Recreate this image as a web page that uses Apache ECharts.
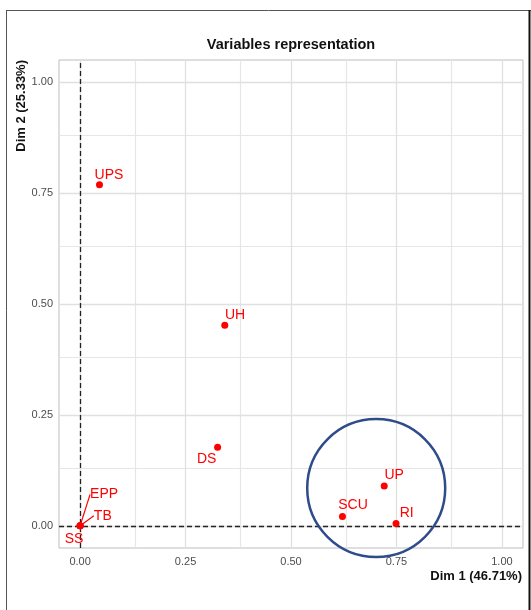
<!DOCTYPE html>
<html><head><meta charset="utf-8">
<script src="https://cdn.jsdelivr.net/npm/echarts@6/dist/echarts.min.js"></script>
<style>html,body{margin:0;padding:0;background:#fff}#c{width:531px;height:610px}</style>
</head><body><div id="c"></div>
<script>
// ---- data ----
const varNames = ['UPS', 'UH', 'DS', 'UP', 'SCU', 'RI', 'EPP', 'TB', 'SS'];
const dim1 = [0.046, 0.343, 0.326, 0.721, 0.622, 0.749, 0.000, 0.000, 0.000];
const dim2 = [0.769, 0.452, 0.177, 0.090, 0.021, 0.005, 0.000, 0.000, 0.000];
const tickValues = [0, 0.25, 0.5, 0.75, 1];
const minorGridValues = [0.125, 0.375, 0.625, 0.875];
const axisRange = [-0.05, 1.05];
const titleText = 'Variables representation';
const xName = 'Dim 1 (46.71%)';
const yName = 'Dim 2 (25.33%)';
const circleCenter = [0.702, 0.085];

// ---- layout / style ----
const labelOffsets = {
  UPS: [9.5, -10], UH: [10.3, -10], DS: [-11, 12.3], UP: [10, -11],
  SCU: [10.6, -11], RI: [10.7, -10.7], EPP: [24, -31.5], TB: [22.7, -10], SS: [-6, 13]
};
const FONT = '"Liberation Sans", Arial, sans-serif';
const RED = '#FF0000';

const chart = echarts.init(document.getElementById('c'));

const gridLines = [];
minorGridValues.forEach(v => {
  gridLines.push({ xAxis: v, lineStyle: { color: '#E6E6E6', width: 1.2, type: 'solid' } });
  gridLines.push({ yAxis: v, lineStyle: { color: '#E6E6E6', width: 1.2, type: 'solid' } });
});
tickValues.forEach(v => {
  gridLines.push({ xAxis: v, lineStyle: { color: '#E0E0E0', width: 1.3, type: 'solid' } });
  gridLines.push({ yAxis: v, lineStyle: { color: '#E0E0E0', width: 1.3, type: 'solid' } });
});

function axisCfg(margin) {
  return {
    type: 'value', min: axisRange[0], max: axisRange[1],
    axisLine: { show: false },
    splitLine: { show: false },
    axisTick: { show: true, length: 4, customValues: tickValues, lineStyle: { color: '#B3B3B3', width: 1 } },
    axisLabel: { customValues: tickValues, formatter: v => v.toFixed(2), color: '#4D4D4D',
                 fontSize: 11, fontFamily: FONT, margin: margin }
  };
}

chart.setOption({
  animation: false,
  grid: { left: 59, right: 8, top: 60, bottom: 62, show: true, borderColor: '#BDBDBD', borderWidth: 1, backgroundColor: '#fff' },
  xAxis: axisCfg(8),
  yAxis: axisCfg(6),
  series: [
    {
      type: 'scatter', data: [], z: 1, silent: true,
      markLine: { symbol: ['none', 'none'], silent: true, label: { show: false }, data: gridLines }
    },
    {
      type: 'scatter', data: [], z: 2, silent: true,
      markLine: {
        symbol: ['none', 'none'], silent: true, label: { show: false },
        lineStyle: { color: '#222', width: 1.3, type: [5, 3] },
        data: [{ xAxis: 0 }, { yAxis: 0 }]
      }
    },
    {
      type: 'scatter', z: 5,
      symbolSize: 7,
      itemStyle: { color: RED, opacity: 1 },
      data: varNames.map((n, i) => {
        const item = { name: n, value: [dim1[i], dim2[i]] };
        if (n === 'EPP' || n === 'TB') item.labelLine = { show: true };
        return item;
      }),
      label: { show: true, position: 'inside', formatter: '{b}', color: RED, fontSize: 14, fontFamily: FONT },
      labelLine: { show: false, lineStyle: { color: RED, width: 1.2 } },
      labelLayout: p => {
        const o = labelOffsets[varNames[p.dataIndex]];
        return { dx: o[0], dy: o[1] };
      }
    }
  ],
  graphic: [
    { id: 'title', type: 'text', x: 291, y: 45, style: { text: titleText, fontSize: 14.5, fontWeight: 'bold', fontFamily: FONT, fill: '#111', align: 'center', verticalAlign: 'middle' } },
    { id: 'xname', type: 'text', x: 522, y: 576, style: { text: xName, fontSize: 13, fontWeight: 'bold', fontFamily: FONT, fill: '#111', align: 'right', verticalAlign: 'middle' } },
    { id: 'yname', type: 'text', x: 21, y: 60, rotation: Math.PI / 2, style: { text: yName, fontSize: 13, fontWeight: 'bold', fontFamily: FONT, fill: '#111', align: 'right', verticalAlign: 'middle' } },
    { id: 'frameL', type: 'line', shape: { x1: 6.5, y1: 10.5, x2: 6.5, y2: 610 }, style: { stroke: '#555', lineWidth: 1 } },
    { id: 'frameT', type: 'line', shape: { x1: 6, y1: 10.5, x2: 531, y2: 10.5 }, style: { stroke: '#555', lineWidth: 1 } },
    { id: 'frameR', type: 'line', shape: { x1: 529.5, y1: 10, x2: 529.5, y2: 610 }, style: { stroke: '#111', lineWidth: 2 } }
  ]
});

const c = chart.convertToPixel({ gridIndex: 0 }, circleCenter);
chart.setOption({
  graphic: [
    { id: 'circle', type: 'circle', z: 100, shape: { cx: c[0], cy: c[1], r: 69 }, style: { fill: 'none', stroke: '#2E4B8A', lineWidth: 2.5 } }
  ]
});
</script>
</body></html>
